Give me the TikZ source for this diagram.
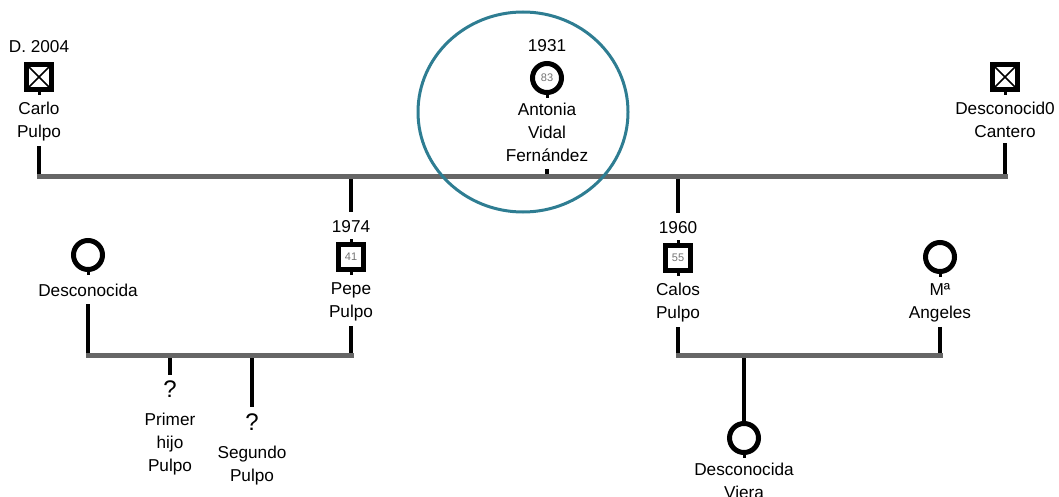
\documentclass[tikz,border=0pt]{standalone}
\usepackage{fontspec}
\setmainfont{Liberation Sans}
\usetikzlibrary{positioning}
\definecolor{petrol}{RGB}{46,125,146}
\tikzset{
  person/.style={draw,line width=5pt,inner sep=0pt,
    font=\fontsize{11}{11}\selectfont\color{black!55}},
  mann/.style={person,rectangle,minimum size=25pt},
  frau/.style={person,circle,minimum size=29pt},
  % verstorben: Quadrat mit Kreuz
  tot/.style={mann,path picture={
      \draw[line width=1.6pt]
        (path picture bounding box.south west)--(path picture bounding box.north east)
        (path picture bounding box.north west)--(path picture bounding box.south east);}
  },
  fragezeichen/.style={inner sep=0pt,font=\fontsize{24}{24}\selectfont},
  beschriftung/.style={align=center,inner sep=0pt},
  jahr/.style={inner sep=0pt},
  linie/.style={line width=4pt},
  zapfen/.style={line width=3pt},
  ehe/.style={line width=5pt,draw=black!60,line cap=rect},
  markierung/.style={draw=petrol,line width=3pt}
}
\begin{document}
\begin{tikzpicture}[x=1pt,y=-1pt,
  font=\fontsize{17.2}{23}\selectfont,
  % Abstand zwischen Symbol und Beschriftung:
  node distance=10pt,
]
\useasboundingbox (0,0) rectangle (1059,497);
% obere Generation
  \node[tot] (carlo) at (39,77) {};
  \node[frau] (antonia) at (547,78) {83};
  \node[tot] (cantero) at (1005,77) {};
% mittlere Generation
  \node[mann] (pepe) at (351,257) {41};
  \node[mann] (calos) at (678,258) {55};
  \node[frau] (desc) at (88,255) {};
  \node[frau] (angeles) at (940,257) {};
% Kinder
  \node[fragezeichen] (hijo1) at (170,389) {?};
  \node[fragezeichen] (hijo2) at (252,422) {?};
  \node[frau] (viera) at (744,438) {};
% Jahreszahlen und Namen
  \foreach \p/\j in {carlo/D. 2004,antonia/1931,pepe/1974,calos/1960}
    \node[jahr,above=9pt of \p] (\p-j) {\j};
  \foreach \p/\d/\n in {carlo/10pt/{Carlo\\Pulpo},antonia/8pt/{Antonia\\Vidal\\Fernández},
      cantero/10pt/{Desconocid0\\Cantero},pepe/10pt/{Pepe\\Pulpo},calos/10pt/{Calos\\Pulpo},
      desc/12pt/{Desconocida},angeles/9pt/{Mª\\Angeles},hijo1/15pt/{Primer\\hijo\\Pulpo},
      hijo2/15pt/{Segundo\\Pulpo},viera/8pt/{Desconocida\\Viera}}
    \node[beschriftung,below=\d of \p] (\p-n) {\n};
% kleine Zapfen an den Symbolen
  \foreach \p in {carlo,cantero,pepe,calos,antonia,desc,angeles,viera}
    \draw[zapfen] (\p.south) -- ++(0,3);
  \foreach \p in {pepe,calos}
    \draw[zapfen] (\p.north) -- ++(0,-3);
% Verbindungen
  \coordinate (o) at (547,177);% obere Ehelinie
  \coordinate (ul) at (220,355);% untere Ehelinie links
  \coordinate (ur) at (810,355);% untere Ehelinie rechts
  \draw[linie] ([yshift=-5pt]carlo-n.south) -- (carlo-n.south |- o);
  \draw[linie] ([yshift=-5pt]cantero-n.south) -- (cantero-n.south |- o);
  \draw[linie] (pepe-j.north |- o) -- ([yshift=8pt]pepe-j.north);
  \draw[linie] (calos-j.north |- o) -- ([yshift=8pt]calos-j.north);
  \draw[linie] ([yshift=-7pt]antonia-n.south) -- ([yshift=-13pt]antonia-n.south);
  \draw[linie] ([yshift=-7pt]desc-n.south) -- (desc-n.south |- ul);
  \draw[linie] ([yshift=-5pt]pepe-n.south) -- (pepe-n.south |- ul);
  \draw[linie] ([yshift=-5pt]calos-n.south) -- (calos-n.south |- ur);
  \draw[linie] ([yshift=-5pt]angeles-n.south) -- (angeles-n.south |- ur);
  \draw[linie] (hijo1 |- ul) -- ([yshift=5pt]hijo1.north);
  \draw[linie] (hijo2 |- ul) -- ([yshift=6pt]hijo2.north);
  \draw[linie] (viera |- ur) -- (viera.north);
  \draw[ehe] (carlo-n.south |- o) -- (cantero-n.south |- o);
  \draw[ehe] (desc-n.south |- ul) -- (pepe-n.south |- ul);
  \draw[ehe] (calos-n.south |- ur) -- (angeles-n.south |- ur);
% Markierung
  \draw[markierung] ([xshift=-24pt,yshift=-34pt]antonia.center) ellipse [x radius=105pt,y radius=100pt];
\end{tikzpicture}
\end{document}
